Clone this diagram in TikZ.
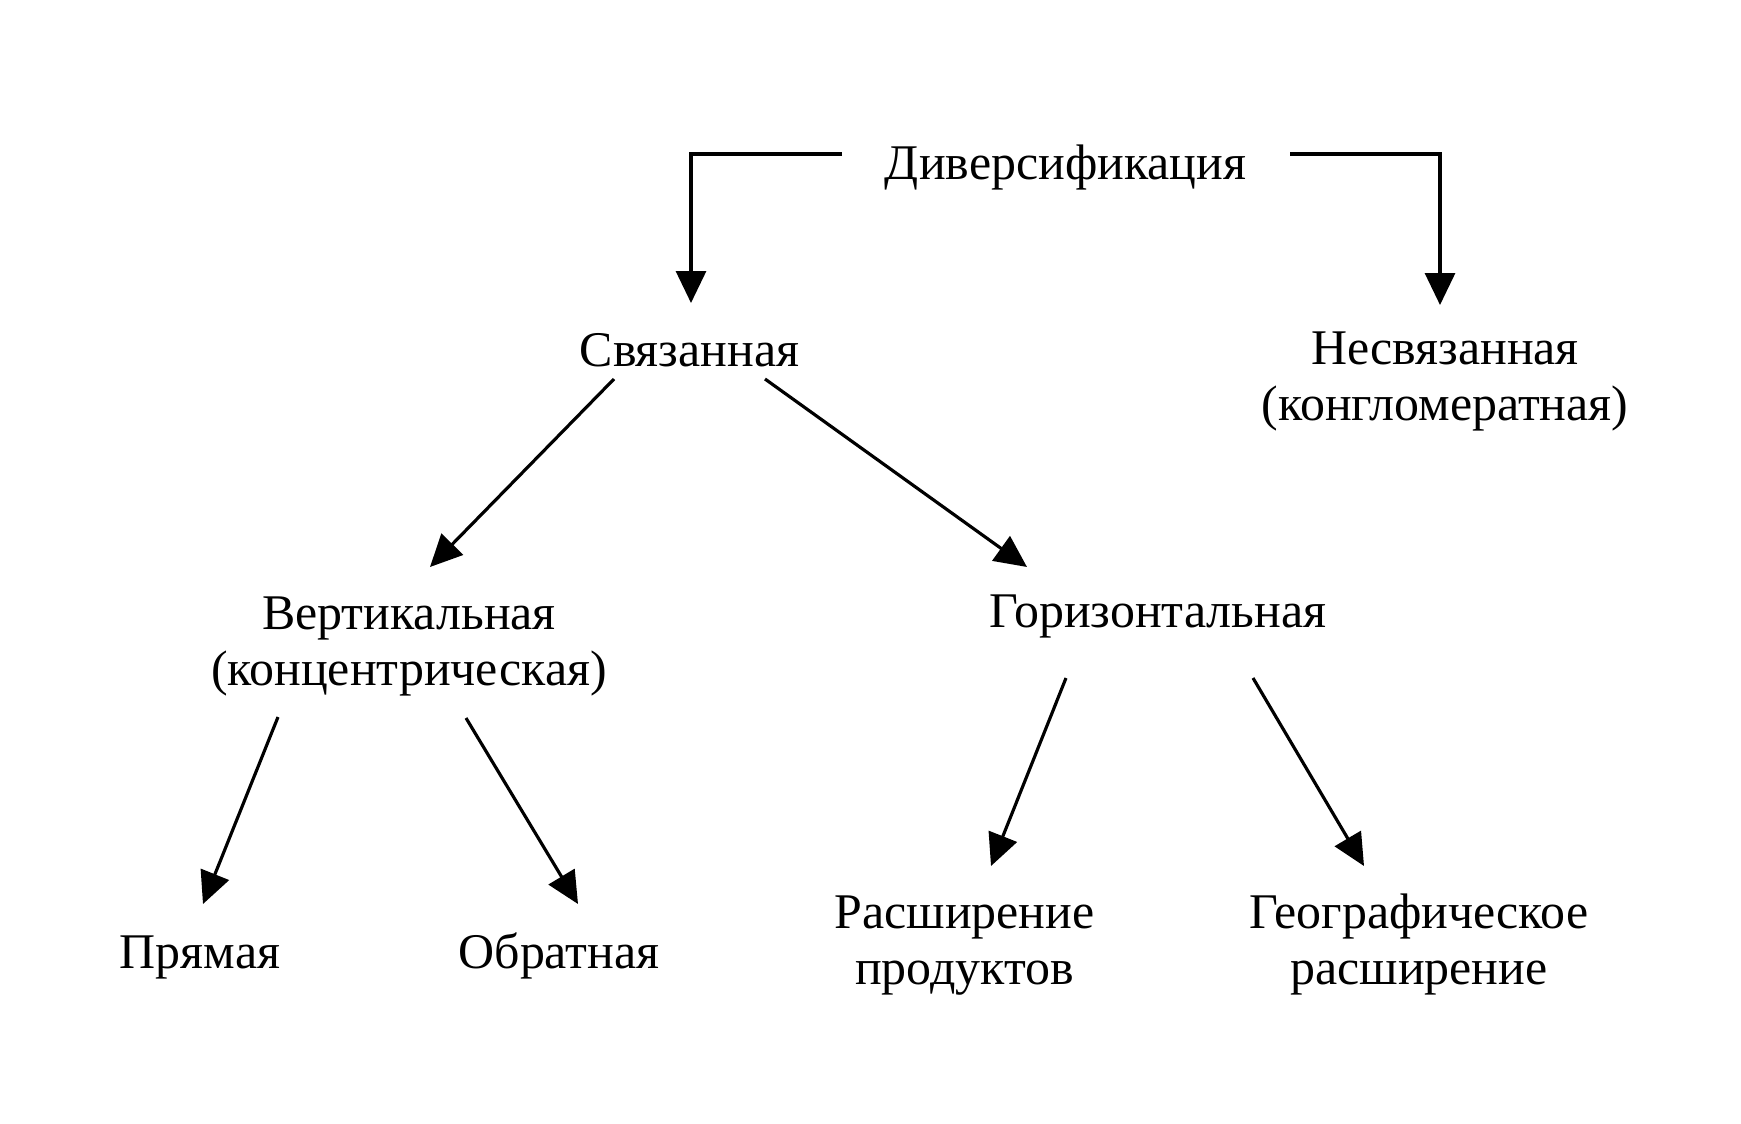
\documentclass[tikz,border=0pt]{standalone}
\usepackage{fontspec}
\setmainfont{Liberation Serif}
\usetikzlibrary{arrows.meta}
\tikzset{lbl/.style={anchor=base, align=center, inner sep=0pt, font=\fontsize{14.2}{15.9}\selectfont}}
\begin{document}
\begin{tikzpicture}[>={Triangle[length=3.2mm,width=3mm]}, line width=.9pt]
\useasboundingbox (0,0) rectangle (17.41,-11.23);
\node (div) at (10.655,-1.79)[lbl]{Диверсификация};
\node (svyaz) at (6.895,-3.66)[lbl]{Связанная};
\node (nesvyaz) at (14.45,-4.20)[lbl]{Несвязанная\\(конгломератная)};
\node (vert) at (4.09,-6.85)[lbl]{Вертикальная\\(концентрическая)};
\node (goriz) at (11.58,-6.27)[lbl]{Горизонтальная};
\node (pryam) at (2.00,-9.68)[lbl]{Прямая};
\node (obrat) at (5.59,-9.68)[lbl]{Обратная};
\node (rassh) at (9.645,-9.84)[lbl]{Расширение\\продуктов};
\node (geo) at (14.19,-9.84)[lbl]{Географическое\\расширение};

% top brackets
\draw[->] ([shift={(-2.235,.25)}]div.base) -| ([shift={(.015,.63)}]svyaz.base);
\draw[->] ([shift={(2.245,.25)}]div.base) -| ([shift={(-.05,1.15)}]nesvyaz.base);

\draw[->] ([shift={(-.755,-.13)}]svyaz.base)--([shift={(.21,1.18)}]vert.base);
\draw[->] ([shift={(.755,-.13)}]svyaz.base)--([shift={(-1.31,.60)}]goriz.base);

\draw[->] ([shift={(-1.31,-.32)}]vert.base)--([shift={(.03,.64)}]pryam.base);
\draw[->] ([shift={(.57,-.33)}]vert.base)--([shift={(.19,.64)}]obrat.base);

\draw[->] ([shift={(-.92,-.51)}]goriz.base)--([shift={(.265,1.18)}]rassh.base);
\draw[->] ([shift={(.95,-.51)}]goriz.base)--([shift={(-.55,1.18)}]geo.base);
\end{tikzpicture}
\end{document}
